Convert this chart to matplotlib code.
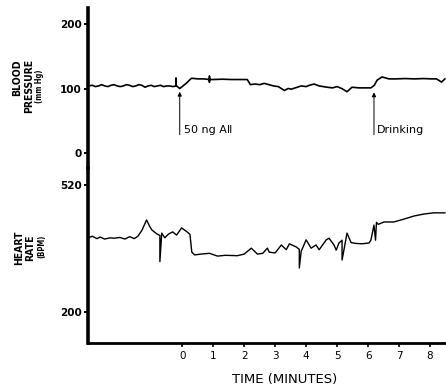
import matplotlib
matplotlib.use("Agg")
import matplotlib.pyplot as plt

# blood pressure trace (mmHg) against time (minutes)
bp_time = [-3.04, -2.9, -2.8, -2.7, -2.6, -2.5, -2.4, -2.3, -2.2, -2.1,
           -2.0, -1.9, -1.8, -1.7, -1.6, -1.5, -1.4, -1.3, -1.2, -1.1,
           -1.0, -0.9, -0.8, -0.7, -0.6, -0.5, -0.4, -0.3, -0.2, -0.2,
           -0.2, -0.15, -0.08, 0.0, 0.15, 0.3, 0.5, 0.7, 0.88, 0.88,
           0.88, 0.88, 1.0, 1.3, 1.6, 1.9, 2.1, 2.2, 2.35, 2.5,
           2.65, 2.8, 2.95, 3.1, 3.2, 3.3, 3.42, 3.52, 3.65, 3.84,
           4.0, 4.1, 4.26, 4.42, 4.55, 4.68, 4.85, 5.0, 5.15, 5.32,
           5.48, 5.7, 5.9, 6.09, 6.2, 6.29, 6.45, 6.67, 6.9, 7.2,
           7.5, 7.8, 8.05, 8.21, 8.37, 8.48]
bp_mmhg = [104, 105, 103, 104, 106, 104, 103, 105, 106, 104,
           103, 104, 106, 105, 103, 104, 106, 105, 102, 104,
           105, 103, 104, 105, 103, 104, 104, 103, 104, 116,
           104, 103, 100, 103, 109, 116, 115, 115, 114, 119,
           110, 114, 114, 114.5, 114, 114, 114, 106, 107, 106,
           108, 106, 104, 103, 100, 97, 100, 99, 101, 104,
           103, 105, 107, 104, 103, 102, 101, 103, 100, 95,
           102, 101, 101, 101, 105, 113, 118, 115, 115, 115.5,
           115, 115.5, 115, 115, 110, 115]

# heart rate trace (beats per minute)
hr_time = [-3.04, -2.9, -2.75, -2.65, -2.5, -2.33, -2.2, -2.01, -1.85, -1.69,
           -1.55, -1.43, -1.3, -1.15, -1.05, -0.98, -0.82, -0.72, -0.72, -0.66,
           -0.56, -0.45, -0.31, -0.18, -0.02, 0.14, 0.25, 0.31, 0.40, 0.6,
           0.88, 1.14, 1.4, 1.78, 2.0, 2.23, 2.43, 2.6, 2.75, 2.81,
           3.0, 3.20, 3.36, 3.46, 3.68, 3.78, 3.78, 3.84, 4.00, 4.16,
           4.32, 4.42, 4.65, 4.74, 4.90, 4.97, 5.06, 5.16, 5.16, 5.32,
           5.45, 5.6, 5.8, 6.03, 6.09, 6.19, 6.24, 6.27, 6.33, 6.51,
           6.83, 7.15, 7.48, 7.80, 8.12, 8.48]
hr_bpm = [386, 390, 384, 388, 383, 386, 385, 387, 383, 389,
          384, 390, 405, 431, 415, 406, 396, 392, 326, 398,
          386, 395, 401, 393, 411, 402, 395, 350, 343, 345,
          347, 340, 342, 341, 345, 360, 345, 347, 360, 350,
          348, 368, 356, 371, 363, 357, 310, 352, 381, 360,
          368, 356, 381, 385, 368, 355, 373, 380, 330, 398,
          374, 372, 371, 373, 380, 418, 380, 425, 420, 426,
          426, 433, 441, 446, 449, 449]

x_ticks = [0, 1, 2, 3, 4, 5, 6, 7, 8]
bp_ticks = [0, 100, 200]
hr_ticks = [200, 520]

W, H = 446, 392
fig = plt.figure(figsize=(W / 100, H / 100), dpi=100)
left, right = 88 / W, 0.999
ax_bp = fig.add_axes([left, 1 - 168 / H, right - left, (168 - 8) / H])
ax_hr = fig.add_axes([left, 1 - 343 / H, right - left, (343 - 168) / H], sharex=ax_bp)

tick_font = dict(fontsize=7.5, fontweight="bold", family="DejaVu Sans")

for ax in (ax_bp, ax_hr):
    ax.patch.set_alpha(0)
    for s in ("top", "right"):
        ax.spines[s].set_visible(False)
    ax.spines["left"].set_linewidth(2.6)
    ax.tick_params(axis="y", direction="out", length=3, width=1.4, pad=1.5)

ax_bp.spines["bottom"].set_visible(False)
ax_hr.spines["bottom"].set_linewidth(2.0)

ax_bp.plot(bp_time, bp_mmhg, color="black", lw=1.2)
ax_hr.plot(hr_time, hr_bpm, color="black", lw=1.0)

ax_bp.set_xlim(-3.04, 8.5)
ax_bp.set_ylim(-23.8, 225.4)
ax_hr.set_ylim(121, 562)

ax_bp.set_yticks(bp_ticks)
ax_bp.set_yticklabels([str(v) for v in bp_ticks], **tick_font)
ax_hr.set_yticks(hr_ticks)
ax_hr.set_yticklabels([str(v) for v in hr_ticks], **tick_font)
ax_bp.tick_params(axis="x", bottom=False, labelbottom=False)
ax_hr.set_xticks(x_ticks)
ax_hr.set_xticklabels([str(v) for v in x_ticks], fontsize=7.5)
ax_hr.tick_params(axis="x", direction="out", length=3, width=1.2, pad=3)

# event markers
arrow = dict(arrowstyle="-|>", lw=0.7, color="black", mutation_scale=6,
             shrinkA=0, shrinkB=0)
ax_bp.annotate("", xy=(-0.08, 95), xytext=(-0.08, 28), arrowprops=arrow)
ax_bp.text(0.05, 35, "50 ng A\u2161", fontsize=8, va="center", ha="left")
ax_bp.annotate("", xy=(6.19, 94), xytext=(6.19, 28), arrowprops=arrow)
ax_bp.text(6.27, 35, "Drinking", fontsize=8, va="center", ha="left")

# axis titles
lab = dict(rotation=90, ha="center", va="center", fontweight="bold",
           family="DejaVu Sans", fontstretch="condensed")
fig.text(17 / W, 1 - 78 / H, "BLOOD", fontsize=7.5, **lab)
fig.text(29 / W, 1 - 86 / H, "PRESSURE", fontsize=7.5, **lab)
fig.text(40 / W, 1 - 86 / H, "(mm Hg)", fontsize=5.5, **lab)
fig.text(19 / W, 1 - 248 / H, "HEART", fontsize=7.5, **lab)
fig.text(30 / W, 1 - 248 / H, "RATE", fontsize=7.5, **lab)
fig.text(42 / W, 1 - 246 / H, "(BPM)", fontsize=5.5, **lab)
fig.text(285 / W, 1 - 380 / H, "TIME (MINUTES)", fontsize=9.5,
         ha="center", va="center")

fig.savefig("out.png", dpi=100, facecolor="white")
